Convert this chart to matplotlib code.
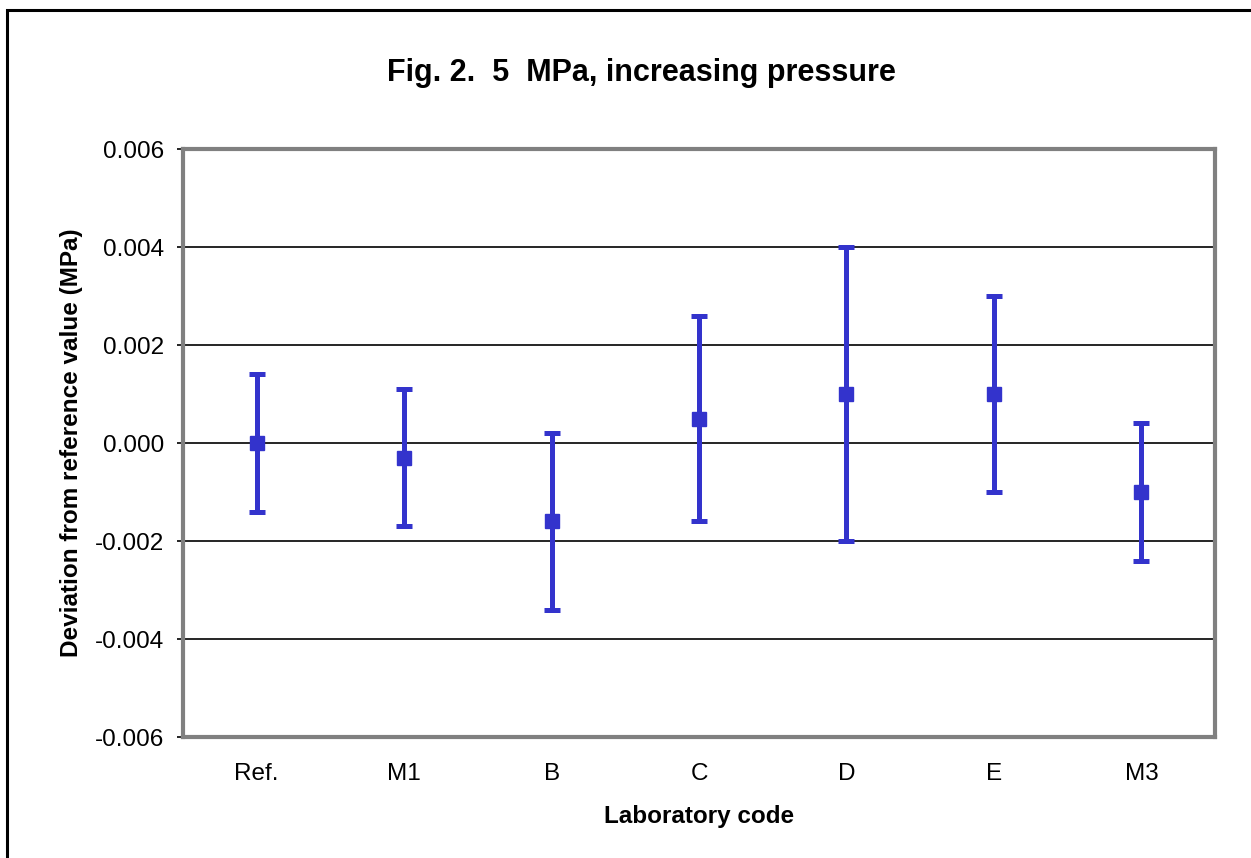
import matplotlib.pyplot as plt
from matplotlib.patches import Rectangle

# Lab results at 5 MPa, increasing pressure
labs = ['Ref.', 'M1', 'B', 'C', 'D', 'E', 'M3']
deviation = [0.0, -0.0003, -0.0016, 0.0005, 0.001, 0.001, -0.001]
uncertainty = [0.0014, 0.0014, 0.0018, 0.0021, 0.003, 0.002, 0.0014]

plt.rcParams['font.family'] = ['Liberation Sans', 'DejaVu Sans']

fig = plt.figure(figsize=(12.51, 8.58), dpi=100)
ax = fig.add_axes([0.1463, 0.141, 0.825, 0.6853])

# outer frame around the chart
fig.patches.append(Rectangle((7 / 1251, -0.1), 1.2, (858 - 10) / 858 + 0.1,
                             transform=fig.transFigure, fill=False,
                             edgecolor='black', linewidth=2.2))

x = range(len(labs))
ax.errorbar(x, deviation, yerr=uncertainty, fmt='s', color='#3333CC',
            markersize=10, elinewidth=3.6, capsize=6, capthick=3.6,
            ecolor='#3333CC')

ax.set_xlim(-0.5, len(labs) - 0.5)
ax.set_ylim(-0.006, 0.006)
ax.set_yticks([-0.006, -0.004, -0.002, 0.0, 0.002, 0.004, 0.006])
ax.set_yticklabels([f'{v:.3f}' for v in ax.get_yticks()])
ax.set_xticks(list(x))
ax.set_xticklabels(labs)
ax.yaxis.grid(True, color='black', linewidth=1.2)
ax.set_axisbelow(True)

for s in ax.spines.values():
    s.set_color('#808080')
    s.set_linewidth(3)

ax.tick_params(axis='y', direction='out', length=4.3, width=1.2, color='black',
               labelsize=17.5, pad=9)
ax.tick_params(axis='x', length=0, labelsize=17.5, pad=19)

ax.set_xlabel('Laboratory code', fontsize=17.5, fontweight='bold', labelpad=14)
ax.set_ylabel('Deviation from reference value (MPa)', fontsize=17.5,
              fontweight='bold', labelpad=9)
fig.text(0.513, 0.915, 'Fig. 2.  5  MPa, increasing pressure', ha='center',
         va='center', fontsize=22, fontweight='bold')

fig.savefig('out.png', dpi=100)
